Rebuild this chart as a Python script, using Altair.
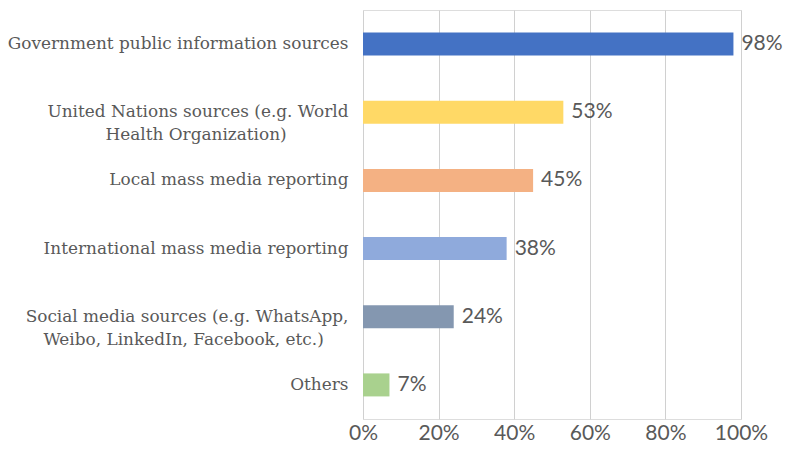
import altair as alt
import pandas as pd

PAD = "\u2800"
categories = [
    "Government public information sources",
    "United Nations sources (e.g. World\nHealth Organization)" + PAD * 5,
    "Local mass media reporting",
    "International mass media reporting",
    "Social media sources (e.g. WhatsApp,\nWeibo, LinkedIn, Facebook, etc.)" + PAD * 2,
    "Others",
]
values = [98, 53, 45, 38, 24, 7]
colors = ["#4472C4", "#FFD966", "#F4B183", "#8FAADC", "#8497B0", "#A9D18E"]

df = pd.DataFrame({"cat": categories, "val": [v / 100 for v in values],
                   "lab": [f"{v}%" for v in values]})

y = alt.Y("cat:N", sort=categories, title=None,
          axis=alt.Axis(labelExpr="split(datum.label, '\\n')", labelFont="DejaVu Serif",
                        labelFontSize=16.9, labelColor="#595959", labelLineHeight=23,
                        labelPadding=15, ticks=False, domain=False, labelLimit=400))
x = alt.X("val:Q", title=None, scale=alt.Scale(domain=[0, 1], nice=False),
          axis=alt.Axis(format="%", values=[0, 0.2, 0.4, 0.6, 0.8, 1.0], labelFont="Lato",
                        labelFontSize=21, labelColor="#595959", labelPadding=3,
                        ticks=False, domain=False, grid=True, gridColor="#D0D0D0",
                        labelFlush=False))

bars = alt.Chart(df).mark_bar(size=23).encode(
    x=x, y=y,
    color=alt.Color("cat:N", sort=categories, scale=alt.Scale(domain=categories, range=colors), legend=None),
)
text = alt.Chart(df).mark_text(align="left", dx=8, font="Lato", fontSize=21, color="#595959").encode(
    x=alt.X("val:Q"), y=alt.Y("cat:N", sort=categories), text="lab:N")

chart = alt.layer(bars, text).properties(
    width=378, height=409,
    autosize=alt.AutoSizeParams(type="none"),
    padding={"left": 355, "top": 2, "right": 42, "bottom": 27},
).configure_view(stroke=None).configure(background="white")

chart.save("out.html", embed_options={"renderer": "svg", "actions": False})
